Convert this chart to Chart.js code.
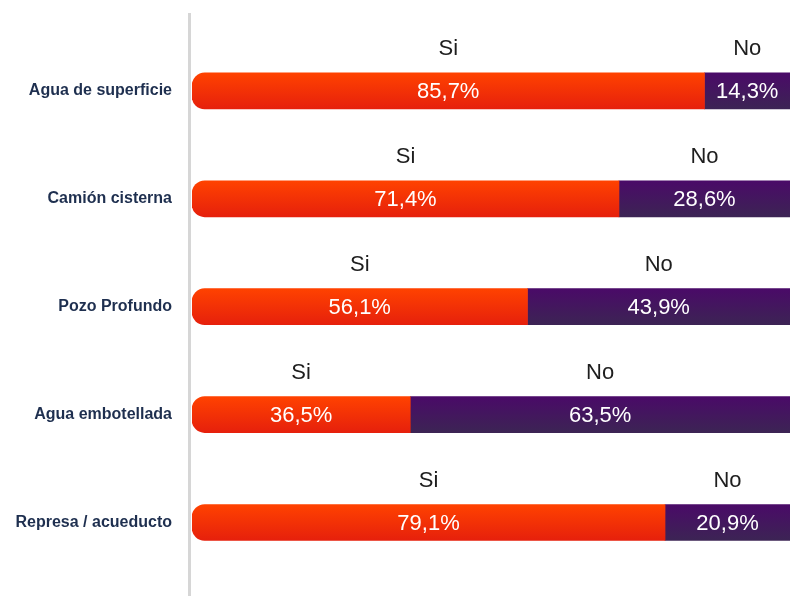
<!DOCTYPE html>
<html>
<head>
<meta charset="utf-8">
<script src="https://cdn.jsdelivr.net/npm/chart.js@4.4.1/dist/chart.umd.min.js"></script>
<style>
    html, body { margin: 0; background: #fff; overflow: hidden; }
    #wrap { width: 790px; height: 606px; position: relative; }
</style>
</head>
<body>
<div id="wrap"><canvas id="myChart"></canvas></div>
<script>
// Water sources and answers
const categories = [
    "Agua de superficie", "Camión cisterna", "Pozo Profundo",
    "Agua embotellada", "Represa / acueducto"
];
const seriesNames = ["Si", "No"];
const siValues = [85.7, 71.4, 56.1, 36.5, 79.1];
const noValues = [14.3, 28.6, 43.9, 63.5, 20.9];

const FONT = "'Liberation Sans', Arial, sans-serif";

function formatPct(v) {
    return v.toFixed(1).replace(".", ",") + "%";
}

// vertical gradient for each bar, built around its own row
function barGradient(top, bottom) {
    return function(ctx) {
        const chart = ctx.chart;
        if (!chart.chartArea || ctx.dataIndex === undefined) return bottom;
        const cy = chart.scales.y.getPixelForValue(ctx.dataIndex);
        const g = chart.ctx.createLinearGradient(0, cy - 18, 0, cy + 18);
        g.addColorStop(0, top);
        g.addColorStop(1, bottom);
        return g;
    };
}

// gray axis line on the left of the bars
const axisLine = {
    id: "axisLine",
    beforeDatasetsDraw(chart) {
        const ctx = chart.ctx;
        ctx.save();
        ctx.fillStyle = "#d6d6d6";
        ctx.fillRect(chart.chartArea.left - 4, 13, 3, chart.height - 13);
        ctx.restore();
    }
};

// values inside the bars and series names above them
const barLabels = {
    id: "barLabels",
    afterDatasetsDraw(chart) {
        const ctx = chart.ctx;
        ctx.save();
        ctx.textAlign = "center";
        ctx.textBaseline = "middle";
        chart.data.datasets.forEach((ds, di) => {
            const meta = chart.getDatasetMeta(di);
            meta.data.forEach((bar, i) => {
                const cx = (bar.x + bar.base) / 2;
                ctx.font = "22px " + FONT;
                ctx.fillStyle = "#ffffff";
                ctx.fillText(formatPct(ds.data[i]), cx, bar.y + 1);
                ctx.fillStyle = "#1e1e1e";
                ctx.fillText(ds.label, cx, bar.y - 42);
            });
        });
        ctx.restore();
    }
};

const ctx = document.getElementById("myChart").getContext("2d");
const chart = new Chart(ctx, {
    type: "bar",
    data: {
        labels: categories,
        datasets: [
            {
                label: seriesNames[0],
                data: siValues,
                backgroundColor: barGradient("#ff4200", "#e6200c"),
                borderWidth: 0,
                borderSkipped: false,
                borderRadius: { topLeft: 13, bottomLeft: 13, topRight: 0, bottomRight: 0 },
                barThickness: 36
            },
            {
                label: seriesNames[1],
                data: noValues,
                backgroundColor: barGradient("#4a0a68", "#3c2454"),
                borderWidth: 0,
                borderSkipped: false,
                borderRadius: 0,
                barThickness: 36
            }
        ]
    },
    options: {
        indexAxis: "y",
        responsive: true,
        maintainAspectRatio: false,
        animation: false,
        layout: { padding: { top: 37, bottom: 0, left: 0, right: 0 } },
        plugins: {
            legend: { display: false },
            tooltip: { enabled: false }
        },
        scales: {
            x: {
                stacked: true,
                min: 0,
                max: 100,
                display: false
            },
            y: {
                stacked: true,
                grid: { display: false, drawTicks: false },
                border: { display: false },
                afterFit: function(scale) { scale.width = 192; },
                ticks: {
                    padding: 20,
                    color: "#1e2f4f",
                    font: { family: FONT, size: 16, weight: "bold" }
                }
            }
        }
    },
    plugins: [axisLine, barLabels]
});
</script>
</body>
</html>
